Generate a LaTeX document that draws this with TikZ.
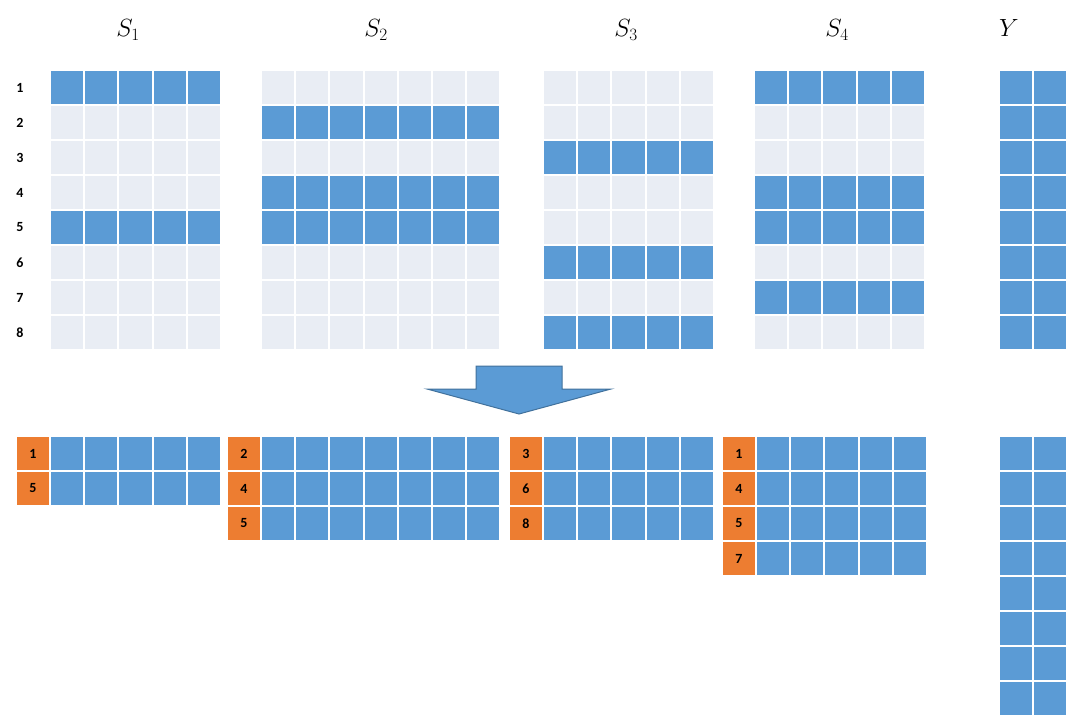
\documentclass[tikz,border=0pt]{standalone}
\usepackage{fontspec}
\setmainfont{Carlito}

\definecolor{cellblue}{HTML}{5B9BD5}
\definecolor{cellgrey}{HTML}{E9EDF4}
\definecolor{idxorange}{HTML}{ED7D31}
\definecolor{arrowedge}{HTML}{41719C}

\tikzset{
  oncell/.style={fill=cellblue,draw=white,line width=2pt},
  offcell/.style={fill=cellgrey,draw=white,line width=2pt},
  idxcell/.style={fill=idxorange,draw=white,line width=2pt},
  rowlabel/.style={font=\fontsize{14}{16}\selectfont\bfseries},
  setname/.style={font=\fontsize{26}{30}\selectfont},
}

% full grid: left edge, columns, highlighted rows
\newcommand{\fullgrid}[3]{%
  \foreach \r in {1,...,8}
    \foreach \c in {1,...,#2}
      \draw[offcell] ({#1+(\c-1)*34.2},{70+(\r-1)*35}) rectangle ++(34.2,35);
  \foreach \r in {#3}
    \foreach \c in {1,...,#2}
      \draw[oncell] ({#1+(\c-1)*34.2},{70+(\r-1)*35}) rectangle ++(34.2,35);
}

% selected rows: left edge, columns, kept rows
\newcommand{\pickgrid}[3]{%
  \foreach \r [count=\k] in {#3} {
    \draw[idxcell] ({#1-34.2},{436+(\k-1)*35}) rectangle ++(34.2,35)
      node[midway,rowlabel] {\r};
    \foreach \c in {1,...,#2}
      \draw[oncell] ({#1+(\c-1)*34.2},{436+(\k-1)*35}) rectangle ++(34.2,35);
  }
}

\begin{document}
\begin{tikzpicture}[x=1pt,y=-1pt]
    \useasboundingbox (0,0) rectangle (1070,719);

    % Titles
    \node[setname] (s1) at (128,30)  {$S_1$};
    \node[setname] (s2) at (376,30)  {$S_2$};
    \node[setname] (s3) at (626,30)  {$S_3$};
    \node[setname] (s4) at (837,30)  {$S_4$};
    \node[setname] (y)  at (1009,28) {$Y$};

    % Row numbers
    \foreach \r in {1,...,8}
      \node[rowlabel] (row\r) at (20,{87.5+(\r-1)*35}) {\r};

    % Original data
    \fullgrid{50}{5}{1,5}
    \fullgrid{261}{7}{2,4,5}
    \fullgrid{543}{5}{3,6,8}
    \fullgrid{754}{5}{1,4,5,7}
    \fullgrid{999}{2}{1,...,8}

    % Arrow
    \draw[fill=cellblue,draw=arrowedge,line width=1pt]
      (476,366) -- (562,366) -- (562,389) -- (611,389) -- (519,414)
      -- (427,389) -- (476,389) -- cycle;

    % Selected rows
    \pickgrid{50}{5}{1,5}
    \pickgrid{261}{7}{2,4,5}
    \pickgrid{543}{5}{3,6,8}
    \pickgrid{756}{5}{1,4,5,7}
    \foreach \r in {1,...,8}
      \foreach \c in {1,2}
        \draw[oncell] ({999+(\c-1)*34.2},{436+(\r-1)*35}) rectangle ++(34.2,35);
\end{tikzpicture}
\end{document}
